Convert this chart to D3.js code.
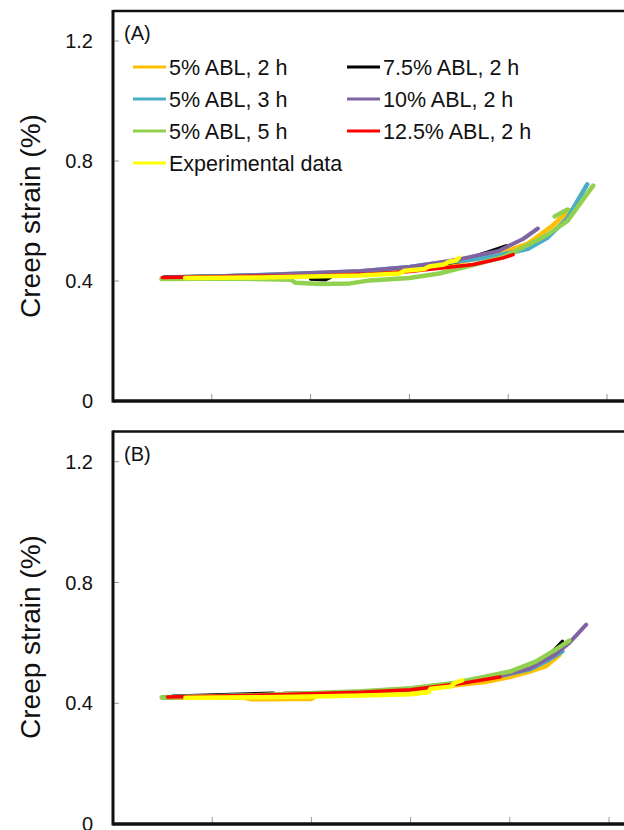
<!DOCTYPE html>
<html>
<head>
<meta charset="utf-8">
<script src="https://cdn.jsdelivr.net/npm/d3@7"></script>
<style>
  body { margin: 0; background: #fff; }
  svg { display: block; font-family: "Liberation Sans", Arial, sans-serif; }
</style>
</head>
<body>
<div id="chart"></div>
<script>
// chart data (x in tick units, y = creep strain %)
const xTicks = [1, 2, 3, 4, 5];
const yTicks = [0, 0.4, 0.8, 1.2];
const yTickLabels = ["0", "0.4", "0.8", "1.2"];
const panelLabels = ["(A)", "(B)"];
const seriesNames = ["5% ABL, 2 h", "7.5% ABL, 2 h", "5% ABL, 3 h", "10% ABL, 2 h",
  "5% ABL, 5 h", "12.5% ABL, 2 h", "Experimental data"];
const seriesColors = ["#FFC000", "#000000", "#4BACC6", "#8064A2", "#92D050", "#FF0000", "#FFFF00"];

// panel A
const A_orange = [[0.5,0.408],[1.4,0.414],[2.4,0.424],[2.9,0.434],[3.4,0.455],[3.9,0.49],[4.2,0.525],[4.45,0.585],[4.62,0.635]];
const A_black = [[0.52,0.413],[1.4,0.419],[1.9,0.423],null,[2.0,0.407],[2.15,0.404],[2.2,0.412],null,[3.0,0.44],[3.5,0.465],[3.8,0.497],[3.98,0.517]];
const A_blue = [[0.5,0.41],[1.5,0.42],[2.5,0.432],[3.0,0.447],[3.3,0.46],[3.6,0.47],[3.9,0.485],[4.2,0.507],[4.4,0.545],[4.6,0.61],[4.8,0.722]];
const A_purple = [[0.5,0.41],[1.5,0.42],[2.5,0.433],[3.0,0.447],[3.5,0.472],[3.9,0.5],[4.15,0.54],[4.3,0.575]];
const A_green = [[0.49,0.407],[1.2,0.408],[1.8,0.404],[1.85,0.394],[2.1,0.39],[2.4,0.392],[2.6,0.402],[3.0,0.41],[3.3,0.425],[3.6,0.45],[3.95,0.48],[4.2,0.52],[4.4,0.555],[4.6,0.6],[4.86,0.718],null,[4.47,0.615],[4.6,0.638]];
const A_red = [[0.5,0.412],[1.2,0.415],[2.0,0.417],[2.6,0.423],[3.0,0.432],[3.4,0.446],[3.65,0.455],[3.95,0.477],[4.05,0.488]];
const A_yellow = [[0.73,0.41],[1.5,0.412],[2.0,0.415],[2.5,0.418],[2.9,0.425],[2.95,0.434],[3.15,0.44],[3.2,0.448],[3.35,0.455],[3.4,0.464],[3.47,0.468],[3.5,0.478]];

// panel B
const B_orange = [[0.5,0.418],[1.3,0.42],[1.4,0.413],[2.0,0.414],[2.05,0.425],[2.6,0.434],[3.0,0.443],[3.4,0.458],[3.75,0.47],[4.0,0.487],[4.2,0.505],[4.36,0.522],[4.5,0.56]];
const B_black = [[0.6,0.423],[1.62,0.433],null,[1.72,0.432],[2.05,0.434],null,[2.2,0.435],[2.6,0.438],[3.0,0.446],[3.5,0.468],[3.9,0.49],[4.22,0.516],[4.4,0.56],[4.53,0.605]];
const B_blue = [[0.5,0.42],[1.5,0.426],[2.5,0.437],[3.0,0.448],[3.5,0.468],[3.9,0.49],[4.2,0.512],[4.4,0.545],[4.53,0.572]];
const B_purple = [[0.5,0.42],[1.5,0.427],[2.5,0.437],[3.0,0.447],[3.5,0.468],[3.9,0.49],[4.2,0.515],[4.45,0.56],[4.6,0.6],[4.77,0.66]];
const B_green = [[0.49,0.419],[1.5,0.427],[2.5,0.44],[3.0,0.45],[3.4,0.465],[3.75,0.488],[4.0,0.505],[4.26,0.538],[4.45,0.575],[4.6,0.607]];
const B_red = [[0.55,0.421],[1.55,0.427],[2.5,0.436],[3.0,0.445],[3.5,0.465],[3.9,0.487]];
const B_yellow = [[0.73,0.418],[1.5,0.42],[2.0,0.422],[2.5,0.426],[3.0,0.43],[3.18,0.436],[3.2,0.448],[3.4,0.455],[3.45,0.468],[3.52,0.476]];

const panelSeries = [
  [A_orange, A_black, A_blue, A_purple, A_green, A_red, A_yellow],
  [B_orange, B_black, B_blue, B_purple, B_green, B_red, B_yellow]
];
const seriesWidths = [4.5, 3.5, 4.5, 4, 4.5, 3.5, 4.5];

const width = 624, height = 830;
const svg = d3.select("#chart").append("svg")
  .attr("width", width)
  .attr("height", height);

// layout of the two panels
const panels = [
  { top: 11, bottom: 401, left: 113, step: 98.8, titleY: 216 },
  { top: 431.5, bottom: 824, left: 113, step: 99.2, titleY: 637 }
];

function drawPanel(p, i) {
  const g = svg.append("g");
  const x = d3.scaleLinear().domain([0, 6]).range([p.left, p.left + 6 * p.step]);
  const y = d3.scaleLinear().domain([0, 1.3]).range([p.bottom, p.top]);

  // inside tick marks
  g.selectAll(".ytick").data(yTicks.slice(1)).join("line")
    .attr("x1", p.left).attr("x2", p.left + 6)
    .attr("y1", d => y(d)).attr("y2", d => y(d))
    .attr("stroke", "#999").attr("stroke-width", 1);
  g.selectAll(".xtick").data(xTicks).join("line")
    .attr("x1", d => x(d)).attr("x2", d => x(d))
    .attr("y1", p.bottom).attr("y2", p.bottom - 7)
    .attr("stroke", "#999").attr("stroke-width", 1);

  // y tick labels
  g.selectAll(".ylab").data(yTicks).join("text")
    .attr("x", 93)
    .attr("y", d => y(d))
    .attr("dy", "0.36em")
    .attr("text-anchor", "end")
    .style("font-size", "20px")
    .style("fill", "#111")
    .text((d, k) => yTickLabels[k]);

  // axis title
  g.append("text")
    .attr("transform", `translate(30,${p.titleY}) rotate(-90)`)
    .attr("text-anchor", "middle")
    .attr("dy", "0.36em")
    .style("font-size", "28px")
    .style("fill", "#111")
    .text("Creep strain (%)");

  // series
  const line = d3.line()
    .defined(d => d !== null)
    .x(d => x(d[0]))
    .y(d => y(d[1]));

  panelSeries[i].forEach((s, k) => {
    g.append("path")
      .datum(s)
      .attr("d", line)
      .attr("fill", "none")
      .attr("stroke", seriesColors[k])
      .attr("stroke-width", seriesWidths[k])
      .attr("stroke-linecap", "round")
      .attr("stroke-linejoin", "round");
  });

  // frame
  g.append("line").attr("x1", p.left).attr("x2", 700)
    .attr("y1", p.top).attr("y2", p.top)
    .attr("stroke", "#111").attr("stroke-width", 2.5);
  g.append("line").attr("x1", p.left).attr("x2", 700)
    .attr("y1", p.bottom).attr("y2", p.bottom)
    .attr("stroke", "#111").attr("stroke-width", 3.5);
  g.append("line").attr("x1", p.left).attr("x2", p.left)
    .attr("y1", p.top - 1).attr("y2", p.bottom + 1.5)
    .attr("stroke", "#111").attr("stroke-width", 3);

  // panel label
  g.append("text")
    .attr("x", 124)
    .attr("y", p.top + 22)
    .attr("dy", "0.36em")
    .style("font-size", "20px")
    .style("fill", "#111")
    .text(panelLabels[i]);
}

panels.forEach(drawPanel);

// legend (panel A only), Excel fills row by row
const legendOrder = [0, 2, 4, 6, 1, 3, 5];
const legendCols = [133, 347];
const legendRowY = [67, 99, 131, 163];
const legend = svg.append("g");
legendOrder.forEach((k, n) => {
  const col = n < 4 ? 0 : 1;
  const row = n < 4 ? n : n - 4;
  const lx = legendCols[col], ly = legendRowY[row];
  legend.append("line")
    .attr("x1", lx).attr("x2", lx + 33)
    .attr("y1", ly).attr("y2", ly)
    .attr("stroke", seriesColors[k])
    .attr("stroke-width", 3);
  legend.append("text")
    .attr("x", lx + 36)
    .attr("y", ly)
    .attr("dy", "0.36em")
    .style("font-size", "21.5px")
    .style("fill", "#111")
    .text(seriesNames[k]);
});
</script>
</body>
</html>
